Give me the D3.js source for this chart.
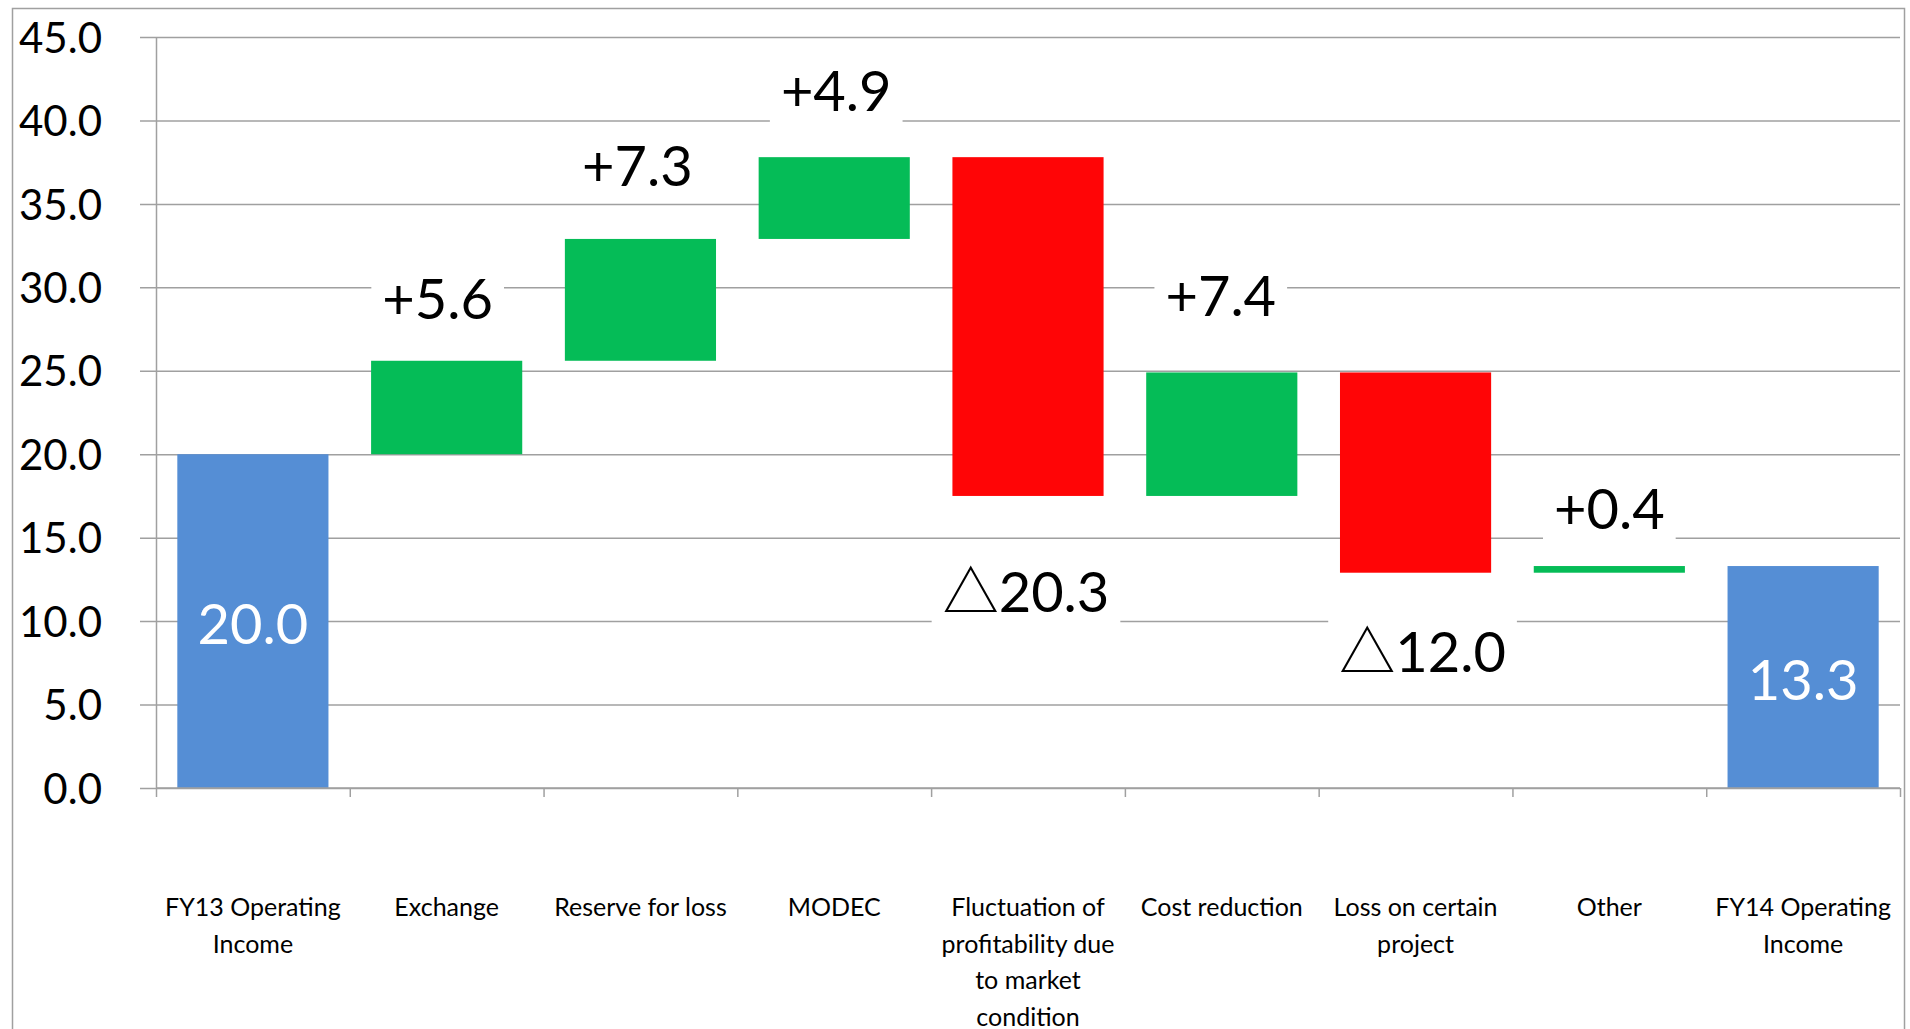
<!DOCTYPE html>
<html>
<head>
<meta charset="utf-8">
<script src="https://cdn.jsdelivr.net/npm/d3@7"></script>
<style>
  html, body { margin: 0; padding: 0; background: #fff; }
  svg { display: block; }
</style>
</head>
<body>
<svg id="chart" width="1910" height="1029"></svg>
<script>
// Operating income bridge, FY13 -> FY14
const categories = [
  "FY13 Operating\nIncome",
  "Exchange",
  "Reserve for loss",
  "MODEC",
  "Fluctuation of\nprofitability due\nto market\ncondition",
  "Cost reduction",
  "Loss on certain\nproject",
  "Other",
  "FY14 Operating\nIncome"
];
const values = [20.0, 5.6, 7.3, 4.9, -20.3, 7.4, -12.0, 0.4, 13.3];
const isTotal = [true, false, false, false, false, false, false, false, true];
const yTicks = [0, 5, 10, 15, 20, 25, 30, 35, 40, 45];

// per-label nudges [dx, dy] in px relative to the default placement
const labelNudge = [[0, 0], [-9, 3], [-3, -8], [2, -1], [-2, 16], [-1, -11], [7, -1], [0, 8], [0, 0]];

const colors = { total: "#558ED5", up: "#05BC57", down: "#FF0506", grid: "#A0A0A0" };
const FONT = "Lato, 'Noto Sans CJK JP', sans-serif";

const svg = d3.select("#chart");

// outer chart frame
svg.append("rect")
  .attr("x", 12.5).attr("y", 8.5)
  .attr("width", 1892).attr("height", 1040)
  .attr("fill", "none").attr("stroke", colors.grid).attr("stroke-width", 1.5);

const plotL = 156, plotR = 1900, plotT = 37, plotB = 788;

const x = d3.scaleBand()
  .domain(categories)
  .range([plotL, plotR])
  .paddingInner(0.22)
  .paddingOuter(0.11);

const y = d3.scaleLinear().domain([0, 45]).range([plotB, plotT]);

// running totals -> floating bar extents
let run = 0;
const bars = values.map((v, i) => {
  let lo, hi;
  if (isTotal[i]) { lo = 0; hi = v; run = v; }
  else { const start = run; run += v; lo = Math.min(start, run); hi = Math.max(start, run); }
  return { cat: categories[i], value: v, lo, hi, total: isTotal[i], i };
});

// y axis with gridlines
const yAxis = d3.axisLeft(y)
  .tickValues(yTicks)
  .tickFormat(d3.format(".1f"))
  .tickSize(16)
  .tickPadding(38);

const gy = svg.append("g").attr("transform", `translate(${plotL},0)`).call(yAxis);
gy.select(".domain").attr("stroke", colors.grid).attr("stroke-width", 1.5)
  .attr("d", `M0.5,${plotT}V${plotB}`);
gy.selectAll(".tick line").attr("stroke", colors.grid).attr("stroke-width", 1.5)
  .attr("x2", -16).attr("x1", plotR - plotL);
gy.selectAll(".tick text")
  .attr("font-family", FONT).attr("font-size", 42).attr("fill", "#000")
  .attr("dy", "0.36em");

// bars
svg.append("g").selectAll("rect")
  .data(bars)
  .join("rect")
  .attr("x", d => x(d.cat))
  .attr("width", x.bandwidth())
  .attr("y", d => y(d.hi))
  .attr("height", d => y(d.lo) - y(d.hi))
  .attr("fill", d => d.total ? colors.total : (d.value >= 0 ? colors.up : colors.down));

// x axis line and category boundary ticks
const gx = svg.append("g");
gx.append("line")
  .attr("x1", plotL).attr("x2", plotR)
  .attr("y1", plotB).attr("y2", plotB)
  .attr("stroke", colors.grid).attr("stroke-width", 1.5);
gx.selectAll("line.tk")
  .data(d3.range(categories.length + 1))
  .join("line")
  .attr("class", "tk")
  .attr("x1", i => plotL + i * x.step() + 0.5)
  .attr("x2", i => plotL + i * x.step() + 0.5)
  .attr("y1", plotB).attr("y2", plotB + 9)
  .attr("stroke", colors.grid).attr("stroke-width", 1.5);

// category labels
const cl = svg.append("g").selectAll("text")
  .data(bars)
  .join("text")
  .attr("font-family", FONT).attr("font-size", 25).attr("fill", "#000")
  .attr("text-anchor", "middle")
  .attr("transform", d => `translate(${x(d.cat) + x.bandwidth() / 2},916)`);
cl.selectAll("tspan")
  .data(d => d.cat.split("\n"))
  .join("tspan")
  .attr("x", 0)
  .attr("y", (t, k) => k * 36.5)
  .text(t => t);

// value labels
const fmt = d3.format(".1f");
const labelFont = 56;
const capH = 0.7165 * labelFont;

const lg = svg.append("g");
bars.forEach(d => {
  const cx = x(d.cat) + x.bandwidth() / 2 + labelNudge[d.i][0];
  if (d.total) {
    const mid = (y(d.lo) + y(d.hi)) / 2;
    lg.append("text")
      .attr("x", cx).attr("y", mid + capH / 2 + 3)
      .attr("text-anchor", "middle")
      .attr("font-family", FONT).attr("font-size", labelFont).attr("fill", "#fff")
      .text(fmt(d.value));
    return;
  }
  const base = d.value >= 0 ? y(d.hi) - 45 : y(d.lo) + 100;
  const by = base + labelNudge[d.i][1];
  const txt = d.value >= 0 ? "+" + fmt(d.value) : "\u25B3" + fmt(-d.value);
  const box = lg.append("rect").attr("fill", "#fff");
  const t = lg.append("text")
    .attr("x", cx).attr("y", by)
    .attr("text-anchor", "middle")
    .attr("font-family", FONT).attr("font-size", labelFont).attr("fill", "#000")
    .text(txt);
  const bb = t.node().getBBox();
  box.attr("x", bb.x - 11).attr("width", bb.width + 22)
    .attr("y", by - capH - 16).attr("height", capH + 31);
});
</script>
</body>
</html>
